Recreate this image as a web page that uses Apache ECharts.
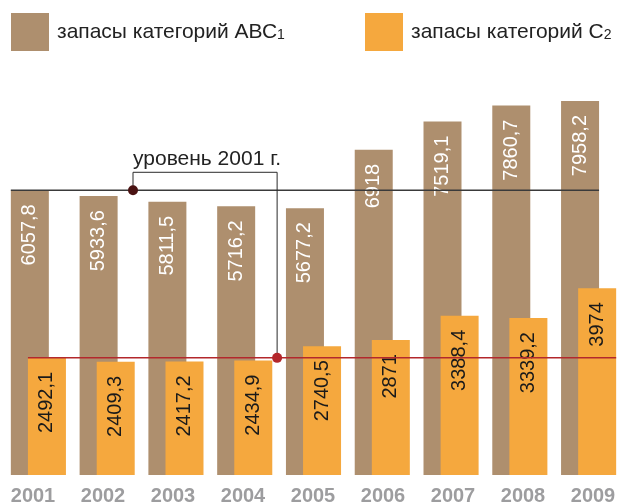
<!DOCTYPE html>
<html>
<head>
<meta charset="utf-8">
<script src="https://cdn.jsdelivr.net/npm/echarts@6.0.0/dist/echarts.min.js"></script>
<style>
  html, body { margin: 0; padding: 0; background: #fff; }
  #main { width: 619px; height: 504px; }
</style>
</head>
<body>
<div id="main"></div>
<script>
var years = ['2001', '2002', '2003', '2004', '2005', '2006', '2007', '2008', '2009'];
var abc1 = [6057.8, 5933.6, 5811.5, 5716.2, 5677.2, 6918, 7519.1, 7860.7, 7958.2];
var c2 = [2492.1, 2409.3, 2417.2, 2434.9, 2740.5, 2871, 3388.4, 3339.2, 3974];
var seriesNames = ['запасы категорий АВС1', 'запасы категорий С2'];
var levelText = 'уровень 2001 г.';

var FONT = '"Liberation Sans", Arial, sans-serif';
var BROWN = '#ae8f6e';
var ORANGE = '#f5a83e';
var BAR_W = 38;

function fmt(p) {
  return String(p.value).replace('.', ',');
}

// legend text with small subscript digit at the end
function legendFmt(name) {
  return '{t|' + name.slice(0, -1) + '}{s|' + name.slice(-1) + '}';
}

function legendCfg(name, left) {
  return {
    data: [name],
    left: left,
    top: 13,
    padding: 0,
    icon: 'rect',
    itemWidth: 38,
    itemHeight: 38,
    selectedMode: false,
    formatter: legendFmt,
    textStyle: {
      padding: [0, 0, 0, 3],
      rich: {
        t: { fontSize: 21, fontFamily: FONT, color: '#222' },
        s: { fontSize: 14, fontFamily: FONT, color: '#222', padding: [6, 0, 0, 0] }
      }
    }
  };
}

function barLabel(color) {
  return {
    show: true,
    position: 'insideTop',
    rotate: 90,
    align: 'right',
    verticalAlign: 'middle',
    distance: 14,
    fontSize: 20,
    fontFamily: FONT,
    color: color,
    formatter: fmt
  };
}

var chart = echarts.init(document.getElementById('main'));

var option = {
  animation: false,
  legend: [legendCfg(seriesNames[0], 11), legendCfg(seriesNames[1], 365)],
  grid: [
    { left: 4, width: 619, top: 99, bottom: 29, outerBoundsMode: 'none' },
    // only carries the year labels, spaced a bit wider than the bars
    { left: -2, width: 630, top: 99, bottom: 29, outerBoundsMode: 'none' }
  ],
  xAxis: [
    {
      type: 'category', data: years, gridIndex: 0,
      axisLine: { show: false }, axisTick: { show: false }, axisLabel: { show: false }
    },
    {
      type: 'category', data: years, gridIndex: 1,
      axisLine: { show: false }, axisTick: { show: false },
      axisLabel: { margin: 11, fontSize: 20, fontWeight: 'bold', fontFamily: FONT, color: '#9d9d9f' }
    }
  ],
  yAxis: [
    { type: 'value', min: 0, max: 8000, gridIndex: 0, show: false },
    { type: 'value', min: 0, max: 8000, gridIndex: 1, show: false }
  ],
  series: [
    {
      name: seriesNames[0], type: 'bar', data: abc1,
      barWidth: BAR_W, barGap: '-55%',
      itemStyle: { color: BROWN },
      label: barLabel('#ffffff')
    },
    {
      name: seriesNames[1], type: 'bar', data: c2,
      barWidth: BAR_W, barGap: '-55%',
      itemStyle: { color: ORANGE },
      label: barLabel('#1a1a1a')
    }
  ]
};

chart.setOption(option);

// 2001 level lines + callout, placed through the axes
var xc = function (i) { return chart.convertToPixel({ xAxisIndex: 0 }, i); };
var yv = function (v) { return chart.convertToPixel({ yAxisIndex: 0 }, v); };
var off = BAR_W * 0.45 / 2;
var yB = yv(abc1[0]);
var yR = yv(c2[0]);
var dot1 = (xc(1) + xc(2)) / 2 - off;
var dot2 = (xc(3) + xc(4)) / 2 - 2;
var yTop = yB - 18;

chart.setOption({
  graphic: [
    {
      type: 'line', z: 100,
      shape: { x1: xc(0) - off - BAR_W / 2, y1: yB, x2: xc(8) - off + BAR_W / 2, y2: yB },
      style: { stroke: '#3a3a3a', lineWidth: 1.5 }
    },
    {
      type: 'line', z: 100,
      shape: { x1: xc(0) + off - BAR_W / 2, y1: yR, x2: xc(8) + off + BAR_W / 2, y2: yR },
      style: { stroke: '#b3282c', lineWidth: 1.5 }
    },
    {
      type: 'polyline', z: 100,
      shape: { points: [[dot1, yB], [dot1, yTop], [dot2, yTop], [dot2, yR]] },
      style: { stroke: '#2a2a2a', lineWidth: 1, fill: null }
    },
    {
      type: 'circle', z: 101,
      shape: { cx: dot1, cy: yB, r: 5 },
      style: { fill: '#4a1212' }
    },
    {
      type: 'circle', z: 101,
      shape: { cx: dot2, cy: yR, r: 5 },
      style: { fill: '#b3262a' }
    },
    {
      type: 'text', z: 101,
      x: dot1, y: yTop - 3,
      style: {
        text: levelText, fontSize: 21, fontFamily: FONT, fill: '#222',
        align: 'left', verticalAlign: 'bottom'
      }
    }
  ]
});
</script>
</body>
</html>
